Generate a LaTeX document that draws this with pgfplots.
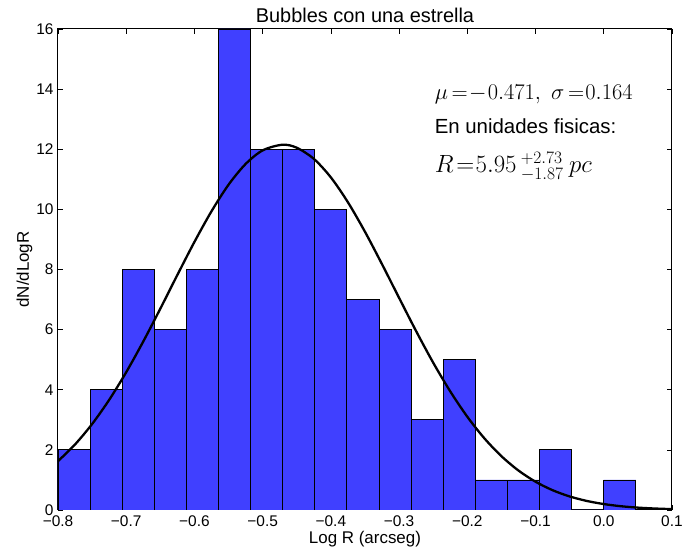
\RequirePackage{fix-cm}
\documentclass[border=0pt]{standalone}
\usepackage[no-math]{fontspec}
\setmainfont{Liberation Sans}
\usepackage{pgfplots}
\pgfplotsset{compat=1.18}
\definecolor{barblue}{RGB}{64,64,255}
\begin{document}
\begin{tikzpicture}
\begin{axis}[
  scale only axis,
  width=614bp, height=481bp,
  xmin=-0.8, xmax=0.1, ymin=0, ymax=16,
  axis line style={black, line width=1bp},
  tick align=inside,
  tick pos=both,
  major tick length=5bp,
  tick style={black, line width=0.6bp},
  xtick={-0.8,-0.7,-0.6,-0.5,-0.4,-0.3,-0.2,-0.1,0.0,0.1},
  xticklabels={−0.8,−0.7,−0.6,−0.5,−0.4,−0.3,−0.2,−0.1,0.0,0.1},
  ytick={0,2,4,6,8,10,12,14,16},
  yticklabels={0,2,4,6,8,10,12,14,16},
  ticklabel style={font=\fontsize{15.5}{17}\selectfont},
  xticklabel style={yshift=-2bp},
  yticklabel style={xshift=-1bp},
  title={Bubbles con una estrella},
  title style={font=\fontsize{20}{22}\selectfont, yshift=-3bp},
  xlabel={Log R (arcseg)},
  ylabel={dN/dLogR},
  xlabel style={font=\fontsize{17}{19}\selectfont, yshift=2bp},
  ylabel style={font=\fontsize{17}{19}\selectfont, yshift=-3bp},
  clip=true,
]
\addplot[ybar interval, fill=barblue, draw=black, line width=0.8bp] coordinates {
  (-0.80000,2) (-0.75294,4) (-0.70589,8) (-0.65883,6) (-0.61178,8)
  (-0.56472,16) (-0.51767,12) (-0.47061,12) (-0.42356,10) (-0.37650,7)
  (-0.32944,6) (-0.28239,3) (-0.23533,5) (-0.18828,1) (-0.14122,1)
  (-0.09417,2) (-0.04711,0) (0.00000,1) (0.04706,1)
};
\addplot[black, line width=2.3bp, smooth] coordinates {
  (-0.800,1.624) (-0.775,2.180) (-0.750,2.859) (-0.725,3.662) (-0.700,4.583)
  (-0.675,5.605) (-0.650,6.697) (-0.625,7.819) (-0.600,8.917) (-0.575,9.936)
  (-0.550,10.820) (-0.525,11.509) (-0.500,11.962) (-0.471,12.150) (-0.450,12.050)
  (-0.425,11.681) (-0.400,11.064) (-0.375,10.236) (-0.350,9.255) (-0.325,8.175)
  (-0.300,7.056) (-0.275,5.949) (-0.250,4.900) (-0.225,3.945) (-0.200,3.102)
  (-0.175,2.384) (-0.150,1.790) (-0.125,1.312) (-0.100,0.940) (-0.075,0.658)
  (-0.050,0.450) (-0.025,0.301) (0.000,0.197) (0.025,0.125) (0.050,0.078)
  (0.075,0.048) (0.100,0.028)
};
\node[anchor=base west, inner sep=0pt, font=\fontsize{22.5}{24}\selectfont] at (axis cs:-0.248,13.67) {$\mu\mkern3mu{=}\mkern1mu{-}\mkern1mu0.471,\;\sigma\mkern3mu{=}\mkern1mu0.164$};
\node[anchor=base west, inner sep=0pt, font=\fontsize{20.5}{22}\selectfont] at (axis cs:-0.248,12.51) {En unidades fisicas:};
\node[anchor=base west, inner sep=0pt, font=\fontsize{25}{27}\selectfont] at (axis cs:-0.248,11.21) {$R\mkern2mu{=}\mkern1mu5.95\mkern3mu^{+2.73}_{-1.87}\mkern4mu pc$};
\end{axis}
\path[use as bounding box] ([xshift=-58bp,yshift=-48bp]current axis.south west) rectangle ([xshift=14bp,yshift=29bp]current axis.north east);
\end{tikzpicture}
\end{document}
